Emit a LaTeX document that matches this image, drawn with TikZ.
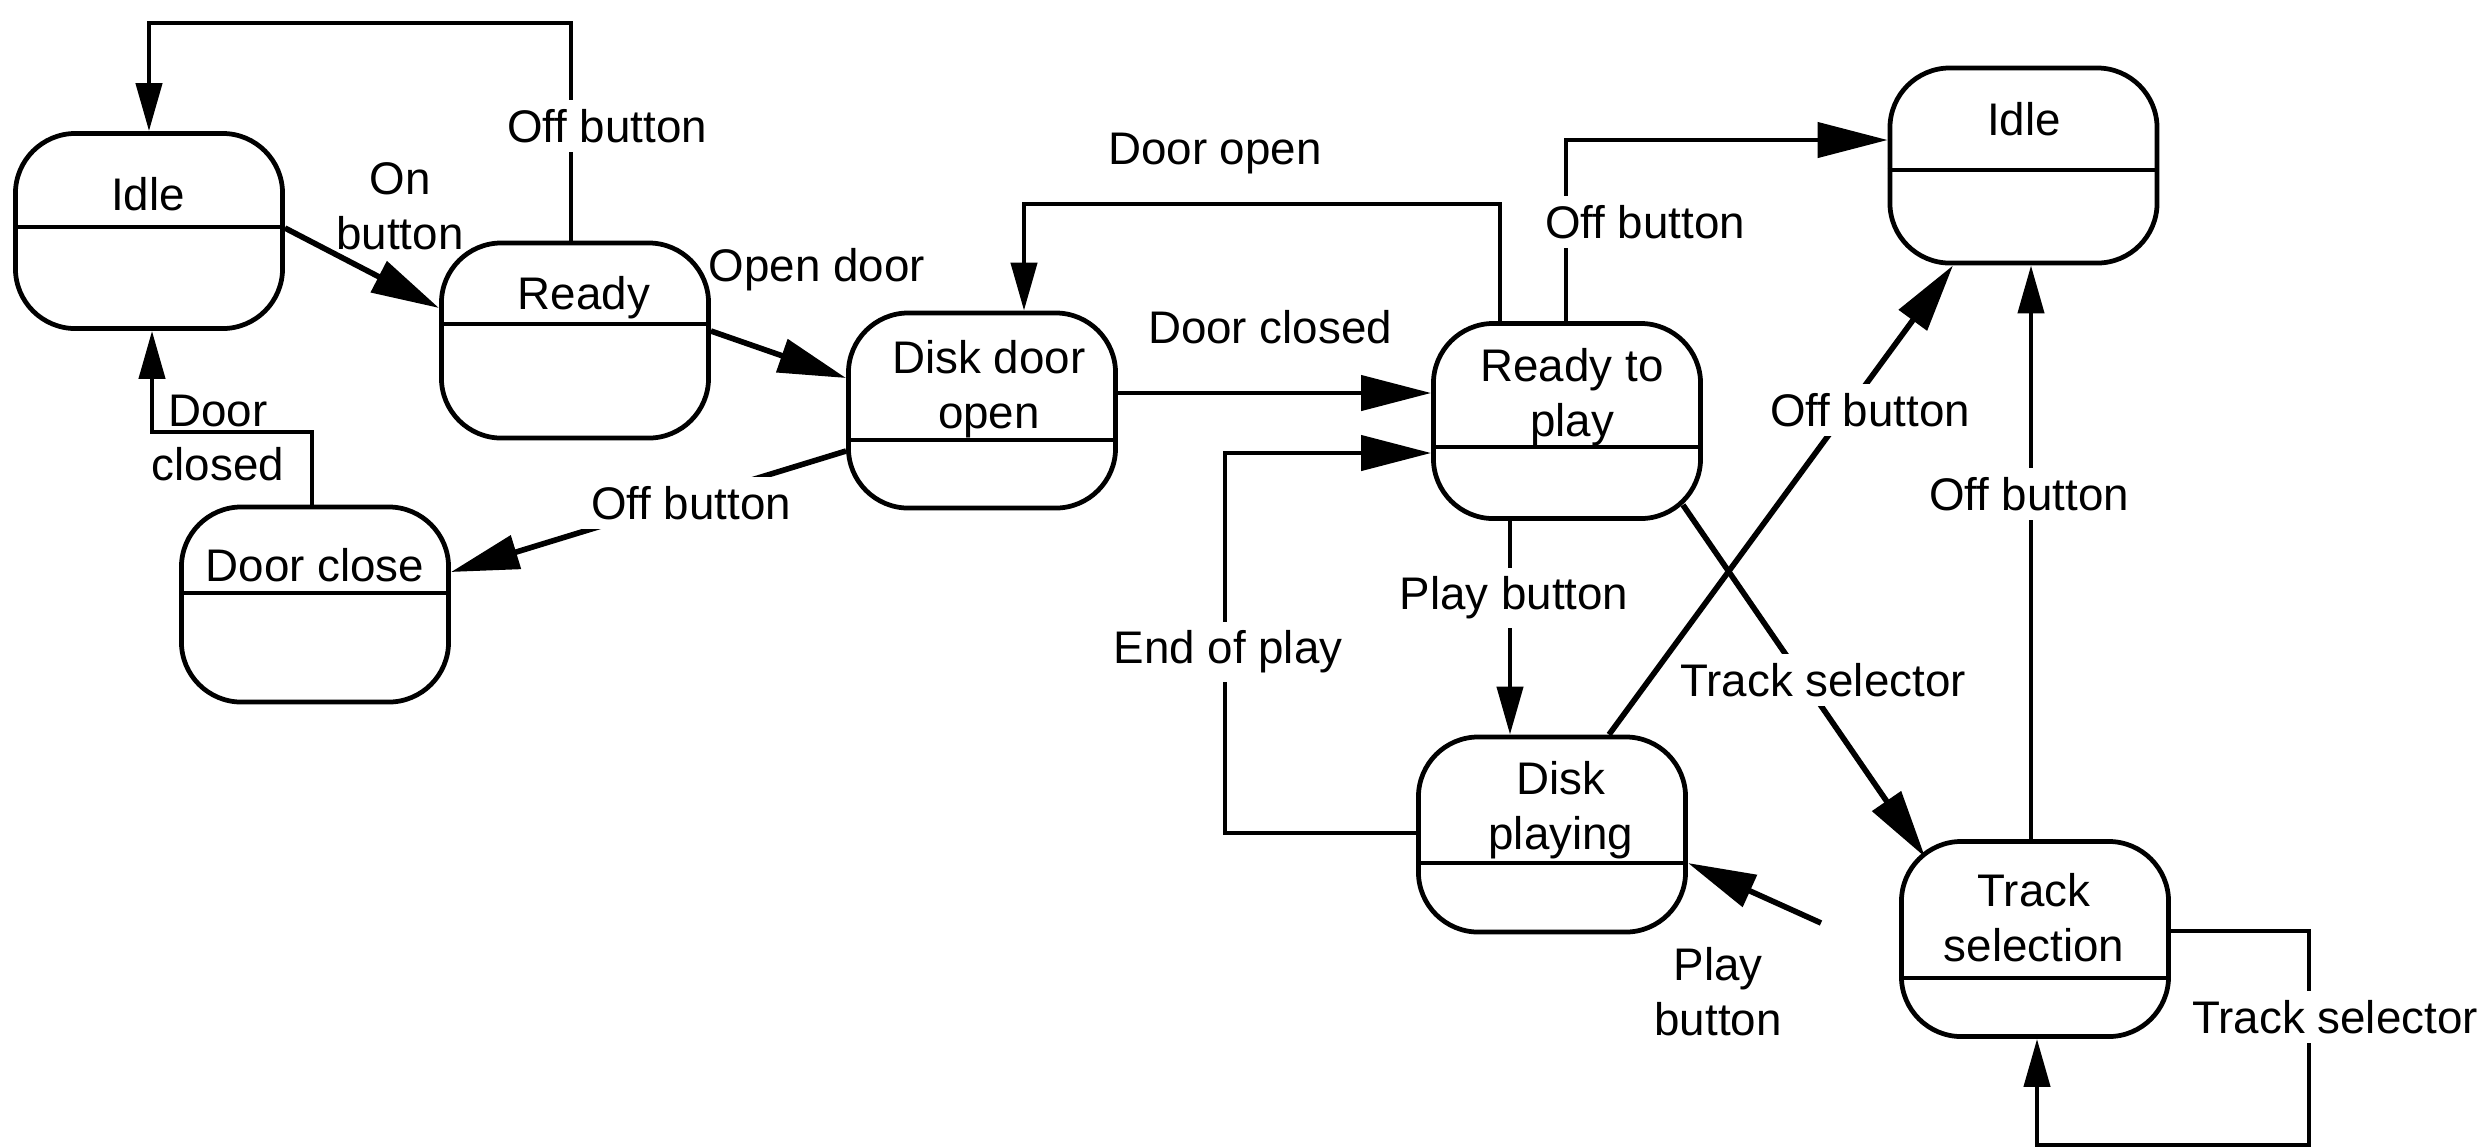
\documentclass[tikz,border=0pt]{standalone}
\usepackage{fontspec}
\setmainfont{Liberation Sans}
\usetikzlibrary{arrows.meta,calc}
\newcommand{\lab}{\fontsize{13}{15.6}\selectfont}
\tikzset{
  state/.style={draw, line width=1.35pt, rounded corners=0.6cm, minimum width=2.67cm, minimum height=1.95cm, inner sep=0pt},
  txt/.style={font=\lab, align=center, inner sep=0pt},
  lbl/.style={font=\lab, align=center, inner sep=0pt},
  gaplbl/.style={font=\lab, align=center, fill=white, inner sep=2.5pt},
  conn/.style={line width=1.25pt},
  thick conn/.style={line width=1.6pt},
  arrS/.style={conn, -{Triangle[length=0.48cm,width=0.26cm]}},
  arrL/.style={conn, -{Triangle[length=0.7cm,width=0.35cm]}},
  arrD/.style={thick conn, -{Triangle[length=0.68cm,width=0.34cm]}},
}
\begin{document}
\begin{tikzpicture}[x=0.01cm, y=-0.01cm]
\useasboundingbox (0,0) rectangle (2490,1147);

% states
\node[state] (idleL) at (149,231) {};
\node[state] (ready) at (575,340.5) {};
\node[state] (dc) at (315,604.5) {};
\node[state] (ddo) at (982,410.5) {};
\node[state] (rtp) at (1567,421) {};
\node[state] (idleR) at (2023.5,165.5) {};
\node[state] (dp) at (1552,834.5) {};
\node[state] (ts) at (2035,939) {};

% dividers
\draw[conn] (idleL.west |- 0,227) -- (idleL.east |- 0,227);
\draw[conn] (ready.west |- 0,324) -- (ready.east |- 0,324);
\draw[conn] (dc.west |- 0,593) -- (dc.east |- 0,593);
\draw[conn] (ddo.west |- 0,440) -- (ddo.east |- 0,440);
\draw[conn] (rtp.west |- 0,447) -- (rtp.east |- 0,447);
\draw[conn] (idleR.west |- 0,170) -- (idleR.east |- 0,170);
\draw[conn] (dp.west |- 0,863) -- (dp.east |- 0,863);
\draw[conn] (ts.west |- 0,978) -- (ts.east |- 0,978);

% state texts
\node[txt] (idleL-t) at (148,194) {Idle};
\node[txt] (ready-t) at (584,298) {Ready};
\node[txt] (dc-t) at (315,565) {Door close};
\node[txt] (ddo-t) at (989,389) {Disk door\\open};
\node[txt] (rtp-t) at (1572,397) {Ready to\\play};
\node[txt] (idleR-t) at (2024,119) {Idle};
\node[txt] (dp-t) at (1561,810) {Disk\\playing};
\node[txt] (ts-t) at (2034,918) {Track\\selection};

% connectors
\draw[arrS] (ready.north -| 571,0) -- (571,23) -| (idleL.north);
\draw[arrD] (idleL.east |- 0,228) -- (ready.west |- 0,308);
\draw[arrD] (ready.east |- 0,331) -- (ddo.west |- 0,378);
\draw[arrD] (ddo.west |- 0,451) -- (dc.east |- 0,572);
\draw[arrS] (dc.north -| 312,0) -- (312,432) -| (idleL.south -| 152,0);
\draw[arrL] (ddo.east |- 0,393) -- (rtp.west |- 0,393);
\draw[arrS] (rtp.north -| 1500,0) -- (1500,204) -| (ddo.north -| 1024,0);
\draw[arrL] (rtp.north -| 1566,0) |- (idleR.west |- 0,140);
\draw[arrS] (rtp.south -| 1510,0) -- (dp.north -| 1510,0);
\draw[arrL] (dp.west |- 0,833) -| (1225,453) -- (rtp.west |- 0,453);
\draw[arrD] (dp.north -| 1609,0) -- (idleR.south -| 1953,0);
\draw[arrD] ($(rtp.south east)+(-20,-16)$) -- ($(ts.north west)+(26,18)$);
\coordinate (pbs) at (1821,923);
\draw[arrD] (pbs) -- (dp.east |- 0,863);
\draw[arrS] (ts.north -| 2031,0) -- (idleR.south -| 2031,0);
\draw[arrS] (ts.east |- 0,931) -| (2309,1145) -| (ts.south -| 2037,0);

% labels
\node[gaplbl] (l1) at (607,126) {Off button};
\node[lbl] (l2) at (400,206) {On\\button};
\node[lbl] (l3) at (817,270) {Open door};
\node[lbl] (l4) at (218,438) {Door\\closed};
\node[gaplbl] (l5) at (691,503) {Off button};
\node[lbl] (l6) at (1215,154) {Door open};
\node[lbl] (l7) at (1270,327) {Door closed};
\node[gaplbl] (l8) at (1645,222) {Off button};
\node[gaplbl] (l9) at (1514,598) {Play button};
\node[gaplbl] (l10) at (1228,652) {End of play};
\node[gaplbl] (l11) at (1870,410) {Off button};
\node[gaplbl] (l12) at (1823,680) {Track selector};
\node[lbl] (l13) at (1718,992) {Play\\button};
\node[gaplbl] (l14) at (2029,494) {Off button};
\node[gaplbl] (l15) at (2335,1017) {Track selector};
\end{tikzpicture}
\end{document}
